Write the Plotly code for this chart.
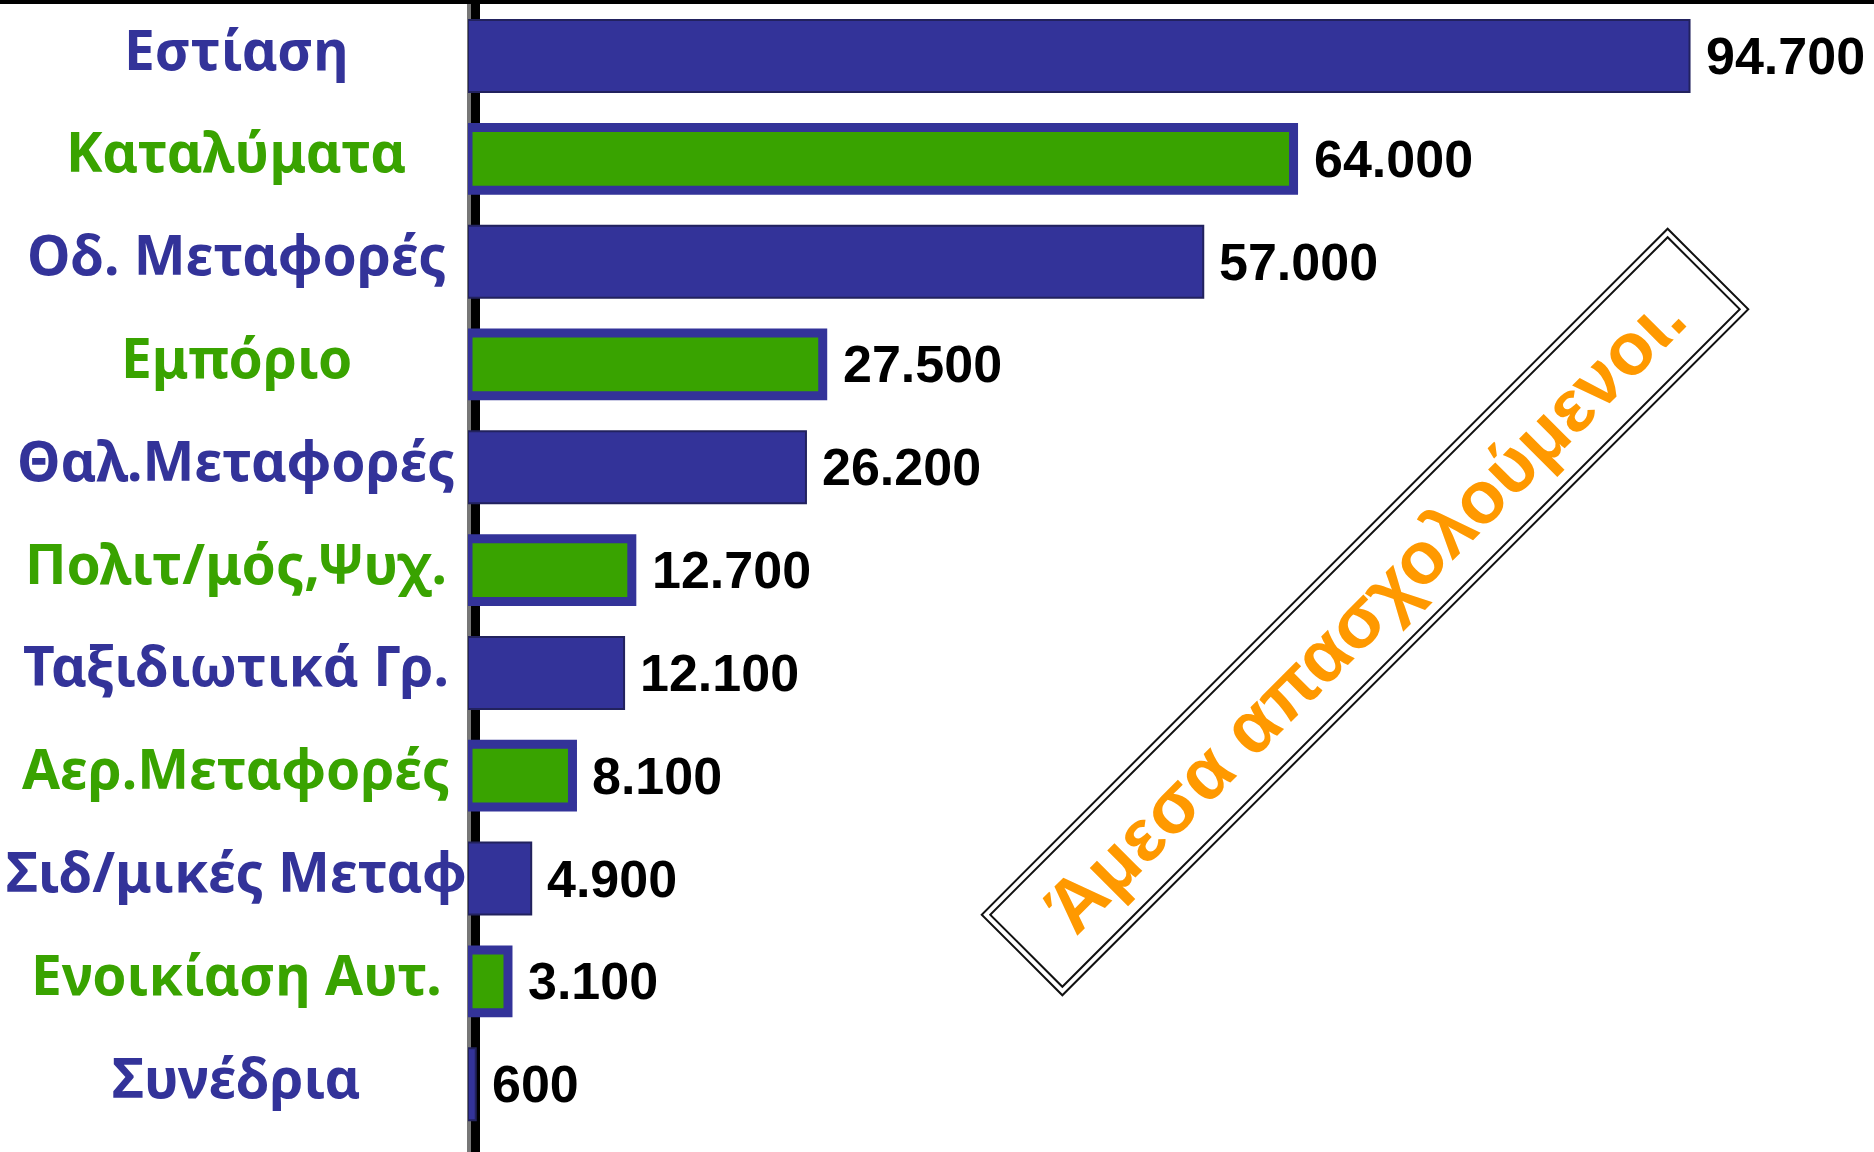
import plotly.graph_objects as go

# ---------------- data ----------------
categories = ["Εστίαση", "Καταλύματα", "Οδ. Μεταφορές", "Εμπόριο", "Θαλ.Μεταφορές",
              "Πολιτ/μός,Ψυχ.", "Ταξιδιωτικά Γρ.", "Αερ.Μεταφορές", "Σιδ/μικές Μεταφ",
              "Ενοικίαση Αυτ.", "Συνέδρια"]
values = [94700, 64000, 57000, 27500, 26200, 12700, 12100, 8100, 4900, 3100, 600]
box_text = "Άμεσα απασχολούμενοι."

# ---------------- style ----------------
BLUE = "#333399"
GREEN = "#39A300"
W, H = 1874, 1152
ML = 468

def fmt(v):
    return f"{v:,}".replace(",", ".")

blue_idx = [i for i in range(len(categories)) if i % 2 == 0]
green_idx = [i for i in range(len(categories)) if i % 2 == 1]

fig = go.Figure()
fig.add_trace(go.Bar(
    y=[categories[i] for i in blue_idx], x=[values[i] for i in blue_idx],
    orientation="h", width=0.70,
    marker=dict(color=BLUE, line=dict(color="#22225e", width=2)),
    hoverinfo="skip", showlegend=False))
fig.add_trace(go.Bar(
    y=[categories[i] for i in green_idx], x=[values[i] for i in green_idx],
    orientation="h", width=0.61,
    marker=dict(color=GREEN, line=dict(color=BLUE, width=9)),
    hoverinfo="skip", showlegend=False))

annotations = []
for i, (c, v) in enumerate(zip(categories, values)):
    annotations.append(dict(
        x=v, y=c, xref="x", yref="y", text=fmt(v), showarrow=False,
        xanchor="left", yanchor="middle", xshift=14 + (4 if i % 2 else 0),
        font=dict(family="Liberation Sans, Arial, sans-serif", size=52, color="black", weight="bold")))
    annotations.append(dict(
        x=-(ML - 236) / (W - ML), y=c, xref="paper", yref="y", text=c, showarrow=False,
        xanchor="center", yanchor="middle", yshift=8,
        font=dict(family="Noto Sans, Open Sans, sans-serif", size=55,
                  color=GREEN if i % 2 else BLUE, weight="bold")))

# rotated boxed note with a double border
bx, by = (1365 - ML) / (W - ML), 1 - 612 / H
annotations.append(dict(
    x=bx, y=by, xref="paper", yref="paper", text=" ", showarrow=False,
    textangle=-45, width=968, height=112, xanchor="center", yanchor="middle",
    bgcolor="white", bordercolor="#111111", borderwidth=2, borderpad=0,
    font=dict(family="Liberation Sans, Arial, sans-serif", size=10, color="white")))
annotations.append(dict(
    x=bx, y=by, xref="paper", yref="paper", text=box_text, showarrow=False,
    textangle=-45, width=956, height=100, xanchor="center", yanchor="middle",
    bgcolor="white", bordercolor="#111111", borderwidth=2, borderpad=0,
    font=dict(family="Liberation Sans, Arial, sans-serif", size=74, color="#FF9900", weight="bold")))

shapes = [
    # top rule
    dict(type="rect", xref="paper", yref="paper", x0=-ML / (W - ML), x1=1,
         ysizemode="pixel", yanchor=1, y0=-4, y1=0,
         fillcolor="black", line=dict(width=0), layer="above"),
    # vertical axis rule (behind bars)
    dict(type="rect", xref="paper", yref="paper", xsizemode="pixel", xanchor=0,
         x0=-1, x1=3, y0=0, y1=1, fillcolor="#777777", line=dict(width=0), layer="below"),
    dict(type="rect", xref="paper", yref="paper", xsizemode="pixel", xanchor=0,
         x0=3, x1=12, y0=0, y1=1, fillcolor="black", line=dict(width=0), layer="below"),
]

fig.update_layout(
    width=W, height=H,
    margin=dict(l=ML, r=0, t=0, b=0),
    paper_bgcolor="white", plot_bgcolor="rgba(0,0,0,0)",
    barmode="overlay",
    xaxis=dict(range=[0, 109000], visible=False, fixedrange=True),
    yaxis=dict(type="category", categoryorder="array", categoryarray=categories,
               range=[10.66, -0.545], showticklabels=False, showgrid=False,
               zeroline=False, showline=False, ticks="", fixedrange=True),
    annotations=annotations, shapes=shapes,
)

fig.write_html("out.html", config={"displayModeBar": False},
               post_script="document.body.style.margin='0';document.body.style.overflow='hidden';")
